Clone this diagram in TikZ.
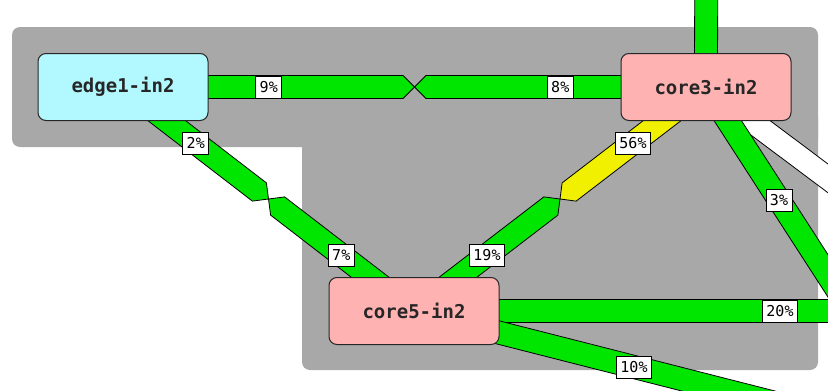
\documentclass[tikz,border=0pt]{standalone}
\usepackage{fontspec}
\setmonofont{DejaVu Sans Mono}
\usetikzlibrary{calc}
\definecolor{mapgray}{RGB}{168,168,168}
\definecolor{linkgreen}{RGB}{0,230,0}
\definecolor{linkyellow}{RGB}{240,240,0}
\definecolor{edgecyan}{RGB}{178,248,255}
\definecolor{corepink}{RGB}{255,178,178}
\newcommand{\halflink}[3]{%
  \filldraw[fill=#3, draw=black, line width=0.8pt, line join=miter]
    let \p1=(#1), \p2=(#2), \n1={atan2(\y2-\y1,\x2-\x1)}, \n2={veclen(\x2-\x1,\y2-\y1)/2} in
    ($(\p1)+(\n1+90:11.5pt)$) -- ++(\n1:\n2-11.5pt)
    -- ($(\p1)+(\n1:\n2)$) -- ($(\p1)+(\n1:\n2-11.5pt)+(\n1-90:11.5pt)$)
    -- ($(\p1)+(\n1-90:11.5pt)$) -- cycle;}

\begin{document}
\begin{tikzpicture}[x=1pt, y=-1pt, router/.style={rectangle, draw=black!85, line width=1pt, rounded corners=8pt, minimum width=170pt, minimum height=67pt, text=black!85, font=\ttfamily\bfseries\fontsize{19}{22}\selectfont}, pct/.style={rectangle, draw=black, fill=white, line width=0.8pt, inner xsep=4pt, inner ysep=0pt, minimum height=22pt, font=\ttfamily\fontsize{15}{16}\selectfont}]
  \useasboundingbox (0,0) rectangle (828,391);
  \clip (0,0) rectangle (828,391);
  \fill[mapgray, rounded corners=8pt] (12,27) rectangle (818,147);
  \fill[mapgray, rounded corners=8pt] (302,110) rectangle (818,370);
  \coordinate (e1) at (123,87);
  \coordinate (c3) at (706,87);
  \coordinate (c5) at (414,311);
  \coordinate (c3up) at (707,-400);
  \coordinate (c3wh) at (1400,607);
  \coordinate (c3se) at (998,539);
  \coordinate (c5e) at (1878,311);
  \coordinate (c5se) at (1294,535);
  \halflink{e1}{c3}{linkgreen}
  \halflink{c3}{e1}{linkgreen}
  \halflink{e1}{c5}{linkgreen}
  \halflink{c5}{e1}{linkgreen}
  \halflink{c3}{c5}{linkyellow}
  \halflink{c5}{c3}{linkgreen}
  \halflink{c3}{c3up}{linkgreen}
  \halflink{c3}{c3wh}{white}
  \halflink{c3}{c3se}{linkgreen}
  \halflink{c5}{c5e}{linkgreen}
  \halflink{c5}{c5se}{linkgreen}
  \node[pct] (p9) at ($(e1)!0.25!(c3)$) {9\%};
  \node[pct] (p8) at ($(c3)!0.25!(e1)$) {8\%};
  \node[pct] (p2) at ($(e1)!0.25!(c5)$) {2\%};
  \node[pct] (p7) at ($(c5)!0.25!(e1)$) {7\%};
  \node[pct] (p56) at ($(c3)!0.25!(c5)$) {56\%};
  \node[pct] (p19) at ($(c5)!0.25!(c3)$) {19\%};
  \node[pct] (p3) at ($(c3)!0.25!(c3se)$) {3\%};
  \node[pct] (p20) at ($(c5)!0.25!(c5e)$) {20\%};
  \node[pct] (p10) at ($(c5)!0.25!(c5se)$) {10\%};
  \node[router, fill=edgecyan] (edge1) at (e1) {edge1-in2};
  \node[router, fill=corepink] (core3) at (c3) {core3-in2};
  \node[router, fill=corepink] (core5) at (c5) {core5-in2};
\end{tikzpicture}
\end{document}
